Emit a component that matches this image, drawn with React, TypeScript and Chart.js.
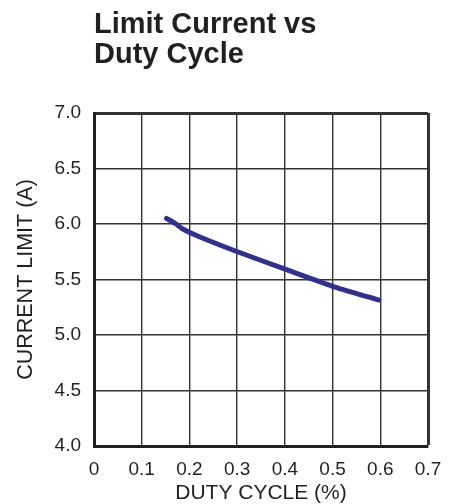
import React, { useEffect, useRef } from "react";
import { Chart, registerables } from "chart.js";

Chart.register(...registerables);

const titleLines = ["Limit Current vs", "Duty Cycle"];
const xAxisTitle = "DUTY CYCLE (%)";
const yAxisTitle = "CURRENT LIMIT (A)";

const dutyCycle = [0.152, 0.172, 0.184, 0.222, 0.302, 0.405, 0.505, 0.597];
const currentLimit = [6.05, 6.0, 5.96, 5.883, 5.748, 5.586, 5.432, 5.315];

const xMin = 0;
const xMax = 0.7;
const xStep = 0.1;
const yMin = 4.0;
const yMax = 7.0;
const yStep = 0.5;

const FONT = '"Liberation Sans", Arial, Helvetica, sans-serif';
const INK = "#231f20";

export default function App() {
  const ref = useRef<HTMLCanvasElement | null>(null);

  useEffect(() => {
    if (!ref.current) return;
    const chart = new Chart(ref.current, {
      type: "line",
      data: {
        datasets: [
          {
            data: dutyCycle.map((x, i) => ({ x, y: currentLimit[i] })),
            borderColor: "#2e3192",
            borderWidth: 5,
            borderCapStyle: "round",
            borderJoinStyle: "round",
            pointRadius: 0,
            tension: 0.2,
            fill: false,
          },
        ],
      },
      options: {
        animation: false,
        responsive: false,
        maintainAspectRatio: false,
        layout: { padding: { left: 0, right: 27, top: 0, bottom: 0 } },
        plugins: {
          legend: { display: false },
          tooltip: { enabled: false },
          title: {
            display: true,
            text: titleLines,
            align: "start",
            fullSize: false,
            color: INK,
            font: { family: FONT, size: 29, weight: "bold", lineHeight: 30 / 29 },
            padding: { top: 10, bottom: 43 },
          },
        },
        scales: {
          x: {
            type: "linear",
            min: xMin,
            max: xMax,
            afterFit: (s: any) => {
              s.height = 58;
            },
            ticks: {
              stepSize: xStep,
              color: INK,
              padding: 12,
              maxRotation: 0,
              autoSkip: false,
              font: { family: FONT, size: 19 },
              callback: (v: any) => (Number(v) === 0 ? "0" : Number(v).toFixed(1)),
            },
            grid: {
              color: "#333",
              lineWidth: (ctx: any) => (ctx.index === 7 ? 3 : 1.4),
              drawTicks: false,
            },
            border: { color: INK, width: 3 },
            title: {
              display: true,
              text: xAxisTitle,
              color: INK,
              font: { family: FONT, size: 21, lineHeight: 1 },
              padding: { top: 0, bottom: 0 },
            },
          },
          y: {
            type: "linear",
            min: yMin,
            max: yMax,
            afterFit: (s: any) => {
              s.width = 94;
            },
            ticks: {
              stepSize: yStep,
              color: INK,
              padding: 13,
              font: { family: FONT, size: 19 },
              callback: (v: any) => Number(v).toFixed(1),
            },
            grid: {
              color: "#333",
              lineWidth: (ctx: any) => (ctx.index === 6 ? 3 : 1.4),
              drawTicks: false,
            },
            border: { color: INK, width: 3 },
            title: {
              display: true,
              text: yAxisTitle,
              color: INK,
              font: { family: FONT, size: 21.5, lineHeight: 1.2 },
              padding: { top: 13, bottom: 0 },
            },
          },
        },
      },
    });
    return () => chart.destroy();
  }, []);

  return (
    <div style={{ position: "fixed", left: 0, top: 0, width: 455, height: 504, background: "#fff" }}>
      <canvas ref={ref} width={455} height={504} style={{ width: 455, height: 504 }} />
    </div>
  );
}
